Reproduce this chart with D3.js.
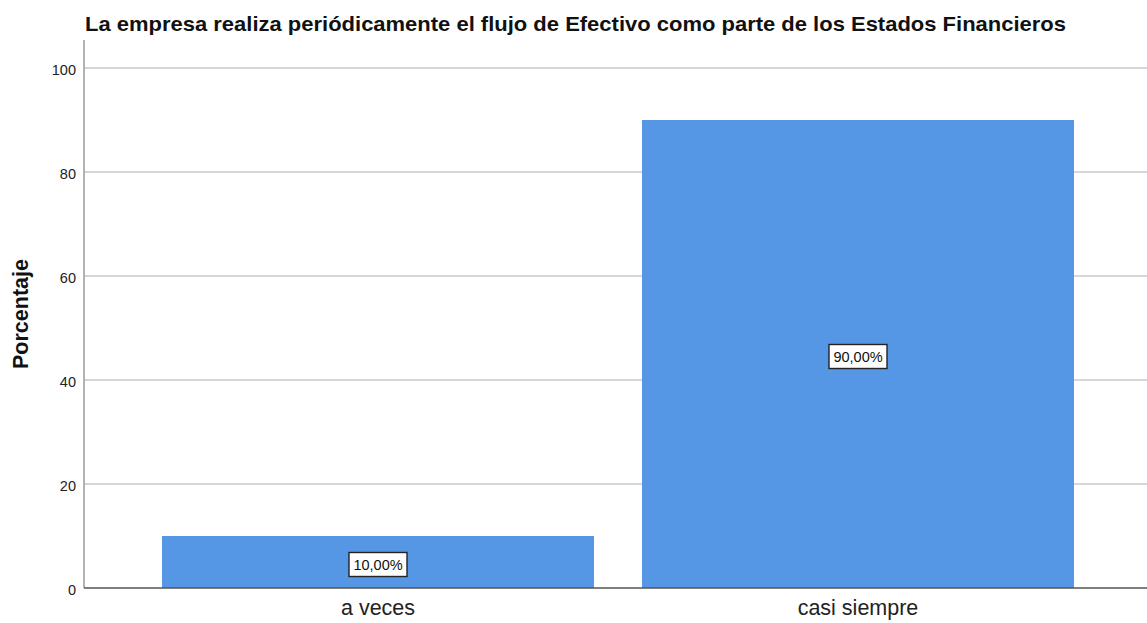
<!DOCTYPE html>
<html><head><meta charset="utf-8">
<script src="https://cdn.jsdelivr.net/npm/d3@7"></script>
<style>body{margin:0;background:#fff;}svg{display:block;}</style>
</head><body>
<svg id="c" width="1147" height="623"></svg>
<script>
const categories = ["a veces", "casi siempre"];
const values = [10, 90];
const valueLabels = ["10,00%", "90,00%"];
const yTicks = [0, 20, 40, 60, 80, 100];
const title = "La empresa realiza periódicamente el flujo de Efectivo como parte de los Estados Financieros";
const yTitle = "Porcentaje";

const svg = d3.select("#c");
const font = "'Liberation Sans', Arial, sans-serif";
const x0 = 84, yBase = 588;
const y = d3.scaleLinear().domain([0, 100]).range([yBase, 68]);
const x = d3.scaleBand().domain(categories).range([138, 1098]).paddingInner(0.1).paddingOuter(0.05);

// gridlines
svg.append("g").selectAll("line").data(yTicks.filter(d => d > 0)).join("line")
  .attr("x1", x0).attr("x2", 1147).attr("y1", d => y(d)).attr("y2", d => y(d))
  .attr("stroke", "#c8c8c8").attr("stroke-width", 1.3);

// bars
svg.append("g").selectAll("rect").data(values).join("rect")
  .attr("x", (d, i) => x(categories[i])).attr("width", x.bandwidth())
  .attr("y", d => y(d)).attr("height", d => yBase - y(d))
  .attr("fill", "#5596e5");

// y axis
const yAxis = svg.append("g").attr("transform", `translate(${x0},0)`)
  .call(d3.axisLeft(y).tickValues(yTicks).tickSize(0).tickPadding(8));
yAxis.select(".domain").remove();
yAxis.selectAll("text").attr("font-family", font).attr("font-size", 14.5).attr("fill", "#222").attr("dy", "0.46em");
svg.append("line").attr("x1", x0).attr("x2", x0).attr("y1", 40).attr("y2", yBase)
  .attr("stroke", "#999").attr("stroke-width", 1.5);

// x axis
const xAxis = svg.append("g").attr("transform", `translate(0,${yBase})`)
  .call(d3.axisBottom(x).tickSize(0).tickPadding(12));
xAxis.select(".domain").remove();
xAxis.selectAll("text").attr("font-family", font).attr("font-size", 21.5).attr("fill", "#222");
svg.append("line").attr("x1", x0).attr("x2", 1147).attr("y1", yBase).attr("y2", yBase)
  .attr("stroke", "#555").attr("stroke-width", 1.3);

// value labels
const lab = svg.append("g").selectAll("g").data(values).join("g")
  .attr("transform", (d, i) => `translate(${x(categories[i]) + x.bandwidth() / 2},${(y(d) + yBase) / 2 + 2.5})`);
lab.append("rect").attr("x", -29).attr("y", -12).attr("width", 58).attr("height", 24)
  .attr("fill", "#fff").attr("stroke", "#222").attr("stroke-width", 1.4);
lab.append("text").text((d, i) => valueLabels[i]).attr("text-anchor", "middle").attr("dy", "0.36em")
  .attr("font-family", font).attr("font-size", 14.5).attr("fill", "#111");

// title
svg.append("text").text(title).attr("x", 85).attr("y", 31)
  .attr("font-family", font).attr("font-weight", "bold").attr("font-size", 20.5).attr("fill", "#111")
  .attr("textLength", 981).attr("lengthAdjust", "spacingAndGlyphs");

// y title
svg.append("text").text(yTitle).attr("transform", "translate(28,314) rotate(-90)")
  .attr("text-anchor", "middle").attr("font-family", font).attr("font-weight", "bold")
  .attr("font-size", 21.5).attr("fill", "#111");
</script>
</body></html>
